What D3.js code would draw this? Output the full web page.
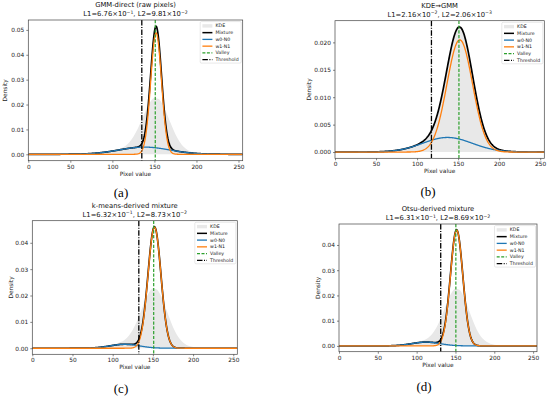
<!DOCTYPE html>
<html><head><meta charset="utf-8">
<script src="https://cdn.jsdelivr.net/npm/d3@7"></script>
<style>body{margin:0;background:#fff}svg{display:block}</style>
</head><body>
<svg id="chart" width="550" height="398"></svg>
<script>
// ---------- data ----------
const titles = ["GMM-direct (raw pixels)", "KDE\u2192GMM", "k-means-derived mixture", "Otsu-derived mixture"];
const l1Mant = ["6.76", "2.16", "6.32", "6.31"];
const l1Exp  = ["\u22121", "\u22122", "\u22121", "\u22121"];
const l2Mant = ["9.81", "2.06", "8.73", "8.69"];
const l2Exp  = ["\u22122", "\u22123", "\u22122", "\u22122"];
const captions = ["(a)", "(b)", "(c)", "(d)"];
const legendLabels = ["KDE", "Mixture", "w0\u00b7N0", "w1\u00b7N1", "Valley", "Threshold"];

// Gaussian components (mean, sigma, weight)
const mean0   = [138, 137, 115, 112];
const sigma0  = [30, 30, 18, 18];
const weight0 = [0.218, 0.200, 0.068, 0.068];
const mean1   = [152, 152, 152, 151.5];
const sigma1  = [6.4, 15.6, 8.05, 8.0];
const weight1 = [0.783, 0.800, 0.926, 0.920];
const thresholds = [135, 117.5, 132.5, 131];
const valleys    = [151, 151, 151, 150.5];

// KDE of the pixel values, read from the gray fill
const kdeX = [0,5,10,15,20,25,30,35,40,45,50,55,60,65,70,75,80,85,90,95,100,105,110,115,120,125,130,135,140,145,150,155,160,165,170,175,180,185,190,195,200,205,210,215,220,225,230,235,240,245,250,255];
const kdeY = [0,0,0,0,0,0,0,0,0.00001,0.00002,0.00004,0.00006,0.0001,0.00015,0.00022,0.00031,0.00044,0.0006,0.00079,0.00102,0.00132,0.00173,0.00232,0.00326,0.00476,0.00702,0.01014,0.01391,0.01782,0.02102,0.02265,0.02225,0.01987,0.01613,0.01193,0.00807,0.00502,0.00292,0.00161,0.00087,0.00047,0.00027,0.00016,0.0001,0.00006,0.00004,0.00002,0.00001,0,0,0,0];

const xTicks = [0, 50, 100, 150, 200, 250];
const yTicks = [
  [0, 0.01, 0.02, 0.03, 0.04, 0.05],
  [0, 0.005, 0.010, 0.015, 0.020],
  [0, 0.01, 0.02, 0.03, 0.04],
  [0, 0.01, 0.02, 0.03, 0.04]
];
const yFormats = [".2f", ".3f", ".2f", ".2f"];

// ---------- layout ----------
const frameL = [28.3, 335, 32.3, 339];
const frameR = [242.7, 544.3, 237.3, 537];
const frameT = [20, 20.7, 220.7, 224];
const frameB = [160.7, 158.3, 354.3, 351.7];
const ylabOff = [23, 25.5, 21, 21];
const capX = [121, 428, 121, 424];
const capY = [197, 196, 393, 391];

const C = {blue: "#1f77b4", orange: "#ff7f0e", green: "#2ca02c", kde: "#e8e8e8"};
const FONT = "DejaVu Sans, sans-serif";

const svg = d3.select("#chart");
const SQ2PI = Math.sqrt(2 * Math.PI);
const pdf = (v, m, s, w) => w / (s * SQ2PI) * Math.exp(-((v - m) ** 2) / (2 * s * s));
const grid = d3.range(0, 255.001, 0.5);

for (let i = 0; i < 4; i++) {
  const L = frameL[i], R = frameR[i], T = frameT[i], B = frameB[i];
  const n0 = grid.map(v => pdf(v, mean0[i], sigma0[i], weight0[i]));
  const n1 = grid.map(v => pdf(v, mean1[i], sigma1[i], weight1[i]));
  const mix = n0.map((v, k) => v + n1[k]);
  const top = Math.max(d3.max(mix), d3.max(kdeY));

  const x = d3.scaleLinear().domain([0, 255]).range([L, R]);
  const y = d3.scaleLinear().domain([-0.05 * top, 1.05 * top]).range([B, T]);
  const g = svg.append("g");

  const clipId = "clip" + i;
  svg.append("clipPath").attr("id", clipId).append("rect")
    .attr("x", L).attr("y", T).attr("width", R - L).attr("height", B - T);
  const pg = g.append("g").attr("clip-path", `url(#${clipId})`);

  // KDE fill
  pg.append("path")
    .datum(kdeX.map((v, k) => [v, kdeY[k]]))
    .attr("fill", C.kde)
    .attr("d", d3.area().x(d => x(d[0])).y0(y(0)).y1(d => y(d[1])).curve(d3.curveMonotoneX));

  const line = d3.line().x((d, k) => x(grid[k])).y(d => y(d));
  pg.append("path").datum(mix).attr("fill", "none").attr("stroke", "#000").attr("stroke-width", 1.7).attr("d", line);
  pg.append("path").datum(n0).attr("fill", "none").attr("stroke", C.blue).attr("stroke-width", 1.3).attr("d", line);
  pg.append("path").datum(n1).attr("fill", "none").attr("stroke", C.orange).attr("stroke-width", 1.3).attr("d", line);

  // valley & threshold
  pg.append("line").attr("x1", x(valleys[i])).attr("x2", x(valleys[i])).attr("y1", T).attr("y2", B)
    .attr("stroke", C.green).attr("stroke-width", 1.2).attr("stroke-dasharray", "3.2,1.6");
  pg.append("line").attr("x1", x(thresholds[i])).attr("x2", x(thresholds[i])).attr("y1", T).attr("y2", B)
    .attr("stroke", "#000").attr("stroke-width", 1.3).attr("stroke-dasharray", "5.5,1.5,1,1.5");

  // axes
  const ax = g.append("g").attr("transform", `translate(0,${B})`)
    .call(d3.axisBottom(x).tickValues(xTicks).tickSize(2).tickPadding(2).tickSizeOuter(0).tickFormat(d3.format("d")));
  const ay = g.append("g").attr("transform", `translate(${L},0)`)
    .call(d3.axisLeft(y).tickValues(yTicks[i]).tickSize(2).tickPadding(2).tickSizeOuter(0).tickFormat(d3.format(yFormats[i])));
  [ax, ay].forEach(a => {
    a.select(".domain").remove();
    a.selectAll("line").attr("stroke", "#333").attr("stroke-width", 0.6);
    a.selectAll("text").attr("font-family", FONT).attr("font-size", 5.85).attr("fill", "#222");
  });

  g.append("rect").attr("x", L).attr("y", T).attr("width", R - L).attr("height", B - T)
    .attr("fill", "none").attr("stroke", "#444").attr("stroke-width", 0.7);

  // labels
  g.append("text").attr("x", (L + R) / 2).attr("y", B + 15).attr("text-anchor", "middle")
    .attr("font-family", FONT).attr("font-size", 5.85).attr("fill", "#222").text("Pixel value");
  g.append("text").attr("transform", `translate(${L - ylabOff[i]},${(T + B) / 2}) rotate(-90)`)
    .attr("text-anchor", "middle").attr("dominant-baseline", "middle")
    .attr("font-family", FONT).attr("font-size", 5.85).attr("fill", "#222").text("Density");

  // title
  const cx = (L + R) / 2;
  g.append("text").attr("x", cx).attr("y", T - 13).attr("text-anchor", "middle")
    .attr("font-family", FONT).attr("font-size", 6.8).attr("fill", "#111").text(titles[i]);
  const t2 = g.append("text").attr("x", cx).attr("y", T - 4).attr("text-anchor", "middle")
    .attr("font-family", FONT).attr("font-size", 6.8).attr("fill", "#111");
  t2.append("tspan").text(`L1=${l1Mant[i]}\u00d710`);
  t2.append("tspan").attr("font-size", 4.6).attr("dy", -2.4).text(l1Exp[i]);
  t2.append("tspan").attr("dy", 2.4).text(`, L2=${l2Mant[i]}\u00d710`);
  t2.append("tspan").attr("font-size", 4.6).attr("dy", -2.4).text(l2Exp[i]);

  // legend
  const bw = 41, bh = 41.5;
  const bx = R - 1.5 - bw, by = T + 1.6;
  const lg = g.append("g");
  lg.append("rect").attr("x", bx).attr("y", by).attr("width", bw).attr("height", bh).attr("rx", 1.2)
    .attr("fill", "#fff").attr("fill-opacity", 0.85).attr("stroke", "#d0d0d0").attr("stroke-width", 0.5);
  legendLabels.forEach((lab, k) => {
    const ey = by + 4.3 + k * 6.75;
    const hx0 = bx + 2.2, hx1 = bx + 12.2;
    if (k === 0) {
      lg.append("rect").attr("x", hx0).attr("y", ey - 1.7).attr("width", hx1 - hx0).attr("height", 3.4).attr("fill", C.kde);
    } else {
      const st = [null,
        {c: "#000", w: 1.5, d: null},
        {c: C.blue, w: 1.3, d: null},
        {c: C.orange, w: 1.3, d: null},
        {c: C.green, w: 1.1, d: "3,1.5"},
        {c: "#000", w: 1.2, d: "5.5,1.5,1,1.5"}][k];
      const ln = lg.append("line").attr("x1", hx0).attr("x2", hx1).attr("y1", ey).attr("y2", ey)
        .attr("stroke", st.c).attr("stroke-width", st.w);
      if (st.d) ln.attr("stroke-dasharray", st.d);
    }
    lg.append("text").attr("x", bx + 15.3).attr("y", ey).attr("dominant-baseline", "central")
      .attr("font-family", FONT).attr("font-size", 4.7).attr("fill", "#222").text(lab);
  });

  // caption
  svg.append("text").attr("x", capX[i]).attr("y", capY[i]).attr("text-anchor", "middle")
    .attr("font-family", "Liberation Serif, serif").attr("font-size", 13).attr("fill", "#000").text(captions[i]);
}
</script>
</body></html>
